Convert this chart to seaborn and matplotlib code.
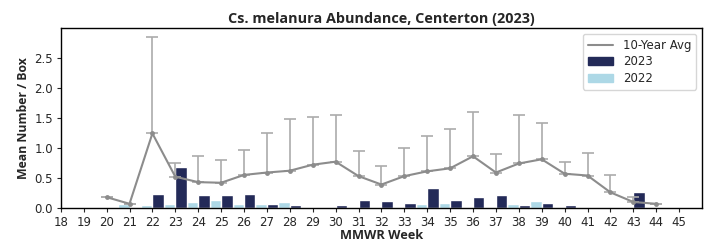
import matplotlib
matplotlib.use("Agg")
import matplotlib.pyplot as plt
import pandas as pd
import seaborn as sns
from matplotlib.lines import Line2D
from matplotlib.patches import Patch

# Data
avg_weeks = list(range(20, 45))
avg_mean = [0.18, 0.07, 1.24, 0.52, 0.43, 0.42, 0.55, 0.59, 0.62, 0.72, 0.77,
            0.53, 0.39, 0.53, 0.61, 0.66, 0.86, 0.59, 0.74, 0.81, 0.57, 0.54,
            0.26, 0.10, 0.07]
avg_upper = [0.18, 0.07, 2.85, 0.74, 0.87, 0.79, 0.96, 1.24, 1.48, 1.52, 1.54,
             0.95, 0.70, 1.00, 1.19, 1.32, 1.60, 0.90, 1.54, 1.42, 0.76, 0.92,
             0.55, 0.19, 0.07]

bar_weeks = list(range(21, 44))
abund_2023 = [0.0, 0.24, 0.68, 0.22, 0.22, 0.24, 0.06, 0.05, 0.0, 0.05, 0.14,
              0.12, 0.08, 0.34, 0.14, 0.19, 0.22, 0.05, 0.08, 0.05, 0.0, 0.0, 0.27]
abund_2022 = [0.06, 0.05, 0.07, 0.10, 0.13, 0.07, 0.07, 0.10, 0.0, 0.0, 0.0,
              0.0, 0.0, 0.07, 0.08, 0.0, 0.0, 0.06, 0.12, 0.0, 0.0, 0.0, 0.0]

col_2023 = "#232a58"
col_2022 = "#add8e6"
col_avg = "#8c8c8c"
col_err = "#ababab"

sns.set_theme(style="ticks")
plt.rcParams["font.family"] = ["DejaVu Sans"]

bars = pd.DataFrame({
    "week": bar_weeks * 2,
    "value": abund_2022 + abund_2023,
    "year": ["2022"] * len(bar_weeks) + ["2023"] * len(bar_weeks),
})
avg = pd.DataFrame({"week": avg_weeks, "mean": avg_mean, "upper": avg_upper})

fig, ax = plt.subplots(figsize=(7.07, 2.45), dpi=100)
fig.subplots_adjust(left=0.086, right=0.993, top=0.885, bottom=0.151)

sns.barplot(data=bars, x="week", y="value", hue="year", hue_order=["2022", "2023"],
            palette={"2022": col_2022, "2023": col_2023}, native_scale=True,
            dodge=True, width=1.0, saturation=1, errorbar=None, legend=False, ax=ax)

# 10-year average with upper error bars
ax.errorbar(avg["week"], avg["mean"], yerr=[[0] * len(avg), avg["upper"] - avg["mean"]],
            fmt="none", ecolor=col_err, elinewidth=1.2, capsize=4, capthick=1.2, zorder=3)
sns.lineplot(data=avg, x="week", y="mean", color=col_avg, marker="o", markersize=3.5,
             markeredgewidth=0, linewidth=1.5, ax=ax, zorder=4)

ax.set_xlim(18, 46)
ax.set_ylim(0, 2.99)
ax.set_xticks(range(18, 46))
ax.set_yticks([0, 0.5, 1.0, 1.5, 2.0, 2.5])
ax.tick_params(labelsize=8.5, length=3, width=0.8, pad=2.5)
for s in ax.spines.values():
    s.set_linewidth(1.0)
    s.set_color("black")

ax.set_title("Cs. melanura Abundance, Centerton (2023)", fontsize=10.4,
             fontweight="bold", family="Open Sans", pad=4)
ax.set_xlabel("MMWR Week", fontsize=9.2, fontweight="bold", family="Open Sans",
              labelpad=0)
ax.set_ylabel("Mean Number / Box", fontsize=8.8, fontweight="bold", family="Open Sans",
              labelpad=3)

handles = [Line2D([0], [0], color=col_avg, linewidth=1.5),
           Patch(color=col_2023), Patch(color=col_2022)]
ax.legend(handles, ["10-Year Avg", "2023", "2022"], loc="upper right", fontsize=8.5,
          frameon=True, edgecolor="#cccccc", borderpad=0.4, handlelength=2.2,
          labelspacing=0.3, bbox_to_anchor=(1.0, 1.0))

fig.savefig("out.png", dpi=100)
